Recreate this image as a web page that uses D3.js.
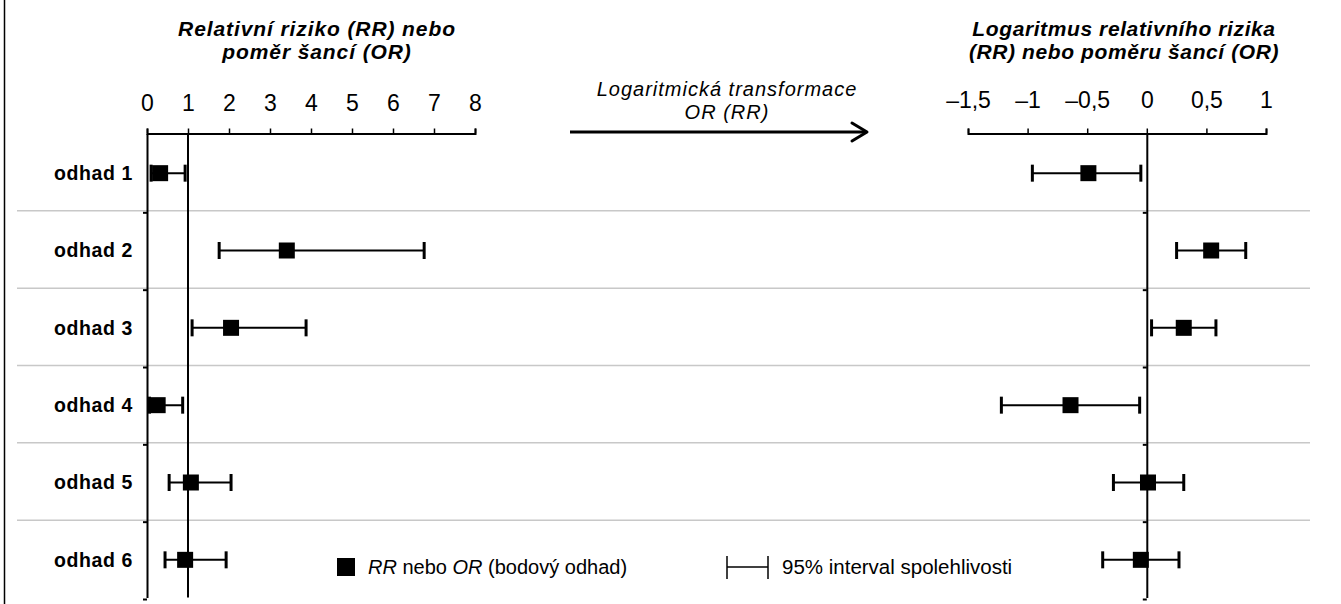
<!DOCTYPE html>
<html lang="cs">
<head>
<meta charset="utf-8">
<script src="https://cdn.jsdelivr.net/npm/d3@7"></script>
<style>
  html, body { margin: 0; padding: 0; background: #fff; }
  svg { display: block; font-family: "Liberation Sans", Arial, Helvetica, sans-serif; }
</style>
</head>
<body>
<svg id="chart" width="1341" height="604"></svg>
<script>
// Odhady (řádky grafu)
const estimates = ["odhad 1", "odhad 2", "odhad 3", "odhad 4", "odhad 5", "odhad 6"];

// RR / OR: bodový odhad a 95% interval spolehlivosti
const rrPoint = [0.32, 3.41, 2.05, 0.26, 1.07, 0.93];
const rrLow   = [0.10, 1.76, 1.10, 0.06, 0.54, 0.44];
const rrHigh  = [0.93, 6.76, 3.88, 0.87, 2.05, 1.93];

// log(RR) / log(OR): bodový odhad a 95% interval spolehlivosti
const logPoint = [-0.49, 0.54, 0.31, -0.64, 0.01, -0.05];
const logLow   = [-0.96, 0.25, 0.04, -1.22, -0.28, -0.37];
const logHigh  = [-0.05, 0.83, 0.58, -0.06, 0.31, 0.27];

// Popisky os
const rrTicks  = [0, 1, 2, 3, 4, 5, 6, 7, 8];
const logTicks = [-1.5, -1, -0.5, 0, 0.5, 1];
const logTickLabels = ["\u20131,5", "\u20131", "\u20130,5", "0", "0,5", "1"];

const rrTitle  = ["Relativní riziko (RR) nebo", "poměr šancí (OR)"];
const logTitle = ["Logaritmus relativního rizika", "(RR) nebo poměru šancí (OR)"];
const arrowText = ["Logaritmická transformace", "OR (RR)"];

const svg = d3.select("#chart");

// Rozložení
const yTop = 133.5, yBottom = 597.5;
const y = d3.scaleBand().domain(estimates).range([yTop, yBottom]);
const xRR  = d3.scaleLinear().domain([0, 8]).range([147, 475]);
const xLog = d3.scaleLinear().domain([-1.5, 1]).range([968, 1266]);

// Levý okraj rámečku
svg.append("line")
  .attr("x1", 4.5).attr("x2", 4.5).attr("y1", 0).attr("y2", 604)
  .attr("stroke", "#000").attr("stroke-width", 1.5);

// Vodorovné oddělovače řádků
const bounds = estimates.slice(1).map(d => y(d));
svg.append("g").selectAll("line").data(bounds).join("line")
  .attr("x1", 17).attr("x2", 1310)
  .attr("y1", d => d).attr("y2", d => d)
  .attr("stroke", "#c8c8c8").attr("stroke-width", 1.5);

// Popisky řádků
svg.append("g").selectAll("text").data(estimates).join("text")
  .attr("x", 133).attr("y", d => y(d) + y.bandwidth() / 2 + 1)
  .attr("dy", "0.35em")
  .attr("text-anchor", "end")
  .attr("font-weight", "bold")
  .attr("font-size", 19.5)
  .attr("letter-spacing", 0.6)
  .text(d => d);

function panel(x, ticks, fmt, refValue, low, point, high, labelPad) {
  const g = svg.append("g");

  // Horní osa
  const ax = g.append("g")
    .attr("transform", `translate(0,${yTop})`)
    .call(d3.axisTop(x).tickValues(ticks).tickFormat(fmt).tickSizeInner(5).tickSizeOuter(5).tickPadding(labelPad));
  ax.select(".domain").attr("stroke-width", 2);
  ax.selectAll(".tick line").attr("stroke-width", 1.5);
  ax.selectAll(".tick text")
    .attr("font-size", 23)
    .attr("fill", "#000")
    .attr("font-family", "'Liberation Sans', Arial, sans-serif");

  // Svislá osa v nule se značkami na hranicích řádků
  const yAxis = d3.scaleLinear().domain([0, estimates.length]).range([yTop, yBottom]);
  const ay = g.append("g")
    .attr("transform", `translate(${x(0)},0)`)
    .call(d3.axisLeft(yAxis).tickValues(d3.range(1, estimates.length + 1)).tickFormat("").tickSizeInner(4).tickSizeOuter(0));
  ay.select(".domain").attr("stroke-width", 2);
  ay.selectAll(".tick line").attr("stroke-width", 2).attr("transform", "translate(0,1.5)");

  // Referenční čára (RR = 1)
  if (refValue !== null) {
    g.append("line")
      .attr("x1", x(refValue)).attr("x2", x(refValue))
      .attr("y1", yTop).attr("y2", yBottom)
      .attr("stroke", "#000").attr("stroke-width", 2);
  }

  const rows = g.append("g").selectAll("g").data(estimates).join("g")
    .attr("transform", d => `translate(0,${y(d) + y.bandwidth() / 2 + 1})`);

  // Interval spolehlivosti
  rows.append("line")
    .attr("x1", (d, i) => x(low[i])).attr("x2", (d, i) => x(high[i]))
    .attr("stroke", "#000").attr("stroke-width", 2);
  rows.append("line")
    .attr("x1", (d, i) => x(low[i])).attr("x2", (d, i) => x(low[i]))
    .attr("y1", -8.5).attr("y2", 8.5)
    .attr("stroke", "#000").attr("stroke-width", 3);
  rows.append("line")
    .attr("x1", (d, i) => x(high[i])).attr("x2", (d, i) => x(high[i]))
    .attr("y1", -8.5).attr("y2", 8.5)
    .attr("stroke", "#000").attr("stroke-width", 3);

  // Bodový odhad
  rows.append("rect")
    .attr("x", (d, i) => x(point[i]) - 8).attr("y", -8)
    .attr("width", 16).attr("height", 16)
    .attr("fill", "#000");
}

panel(xRR, rrTicks, d => String(d), 1, rrLow, rrPoint, rrHigh, 18);
panel(xLog, logTicks, (d, i) => logTickLabels[i], null, logLow, logPoint, logHigh, 21);

// Nadpisy panelů
function title(lines, cx, y0, weight, style, size, lh, ls) {
  const t = svg.append("text")
    .attr("text-anchor", "middle")
    .attr("font-weight", weight)
    .attr("font-style", style)
    .attr("font-size", size)
    .attr("letter-spacing", ls);
  lines.forEach((s, i) => t.append("tspan").attr("x", cx).attr("y", y0 + i * lh).text(s));
}
title(rrTitle, 317, 36, "bold", "italic", 21, 23, 0.9);
title(logTitle, 1124, 36, "bold", "italic", 21, 23, 0.6);
title(arrowText, 727, 96, "normal", "italic", 20, 23, 1.0);

// Šipka transformace
svg.append("line")
  .attr("x1", 570).attr("x2", 866).attr("y1", 132).attr("y2", 132)
  .attr("stroke", "#000").attr("stroke-width", 3);
svg.append("path")
  .attr("d", "M852,123 L867,132 L852,141")
  .attr("fill", "none").attr("stroke", "#000").attr("stroke-width", 3)
  .attr("stroke-linecap", "round").attr("stroke-linejoin", "round");

// Legenda
const leg = svg.append("g").attr("transform", "translate(0,567)");
leg.append("rect").attr("x", 337).attr("y", -9).attr("width", 18).attr("height", 18).attr("fill", "#000");
const lt = leg.append("text").attr("x", 368).attr("y", 0).attr("dy", "0.35em").attr("font-size", 20);
lt.append("tspan").attr("font-style", "italic").text("RR");
lt.append("tspan").text(" nebo ");
lt.append("tspan").attr("font-style", "italic").text("OR");
lt.append("tspan").text(" (bodový odhad)");

leg.append("line").attr("x1", 727).attr("x2", 768).attr("y1", 0).attr("y2", 0).attr("stroke", "#000").attr("stroke-width", 1.5);
leg.append("line").attr("x1", 727).attr("x2", 727).attr("y1", -11).attr("y2", 12).attr("stroke", "#000").attr("stroke-width", 1.5);
leg.append("line").attr("x1", 768).attr("x2", 768).attr("y1", -11).attr("y2", 12).attr("stroke", "#000").attr("stroke-width", 1.5);
leg.append("text").attr("x", 782).attr("y", 0).attr("dy", "0.35em").attr("font-size", 20.5).text("95% interval spolehlivosti");
</script>
</body>
</html>
